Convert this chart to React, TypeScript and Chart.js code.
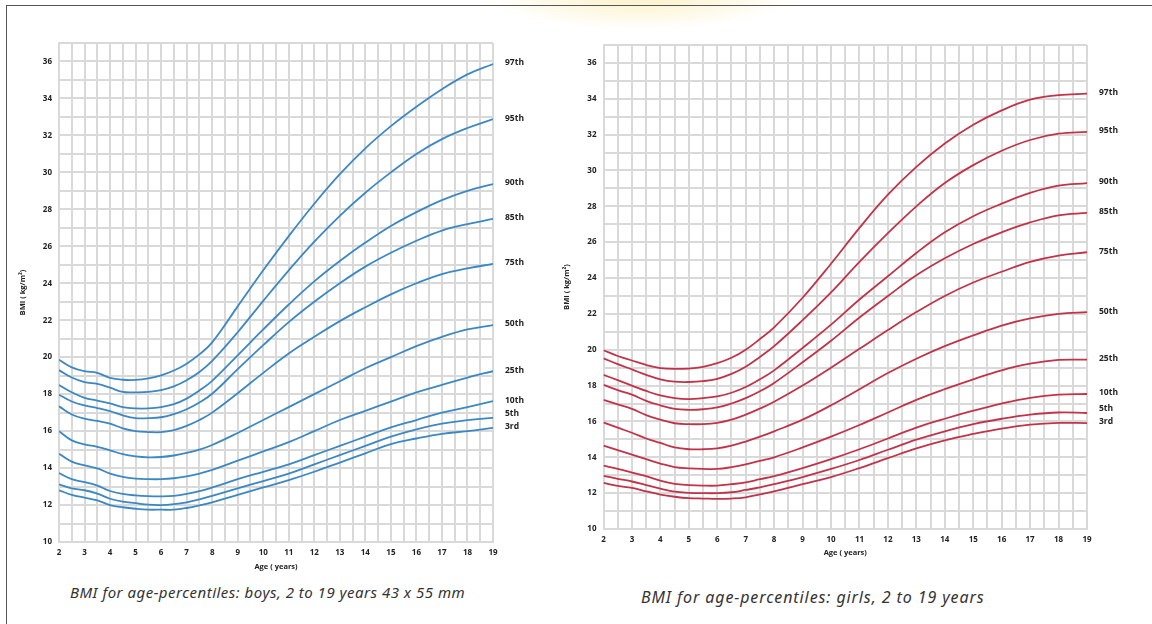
import React, { useEffect, useRef } from "react";
import { Chart, registerables } from "chart.js";
Chart.register(...registerables);

const AGES = [2, 2.5, 3, 3.5, 4, 4.5, 5, 5.5, 6, 6.5, 7, 7.5, 8, 9, 10, 11, 12, 13, 14, 15, 16, 17, 18, 19];
const PERCENTILE_LABELS = ["97th", "95th", "90th", "85th", "75th", "50th", "25th", "10th", "5th", "3rd"];
const X_TICK_LABELS = [2, 3, 4, 5, 6, 7, 8, 9, 10, 11, 12, 13, 14, 15, 16, 17, 18, 19];
const Y_TICK_LABELS = [10, 12, 14, 16, 18, 20, 22, 24, 26, 28, 30, 32, 34, 36];

const boys97 = [19.86, 19.45, 19.24, 19.15, 18.88, 18.78, 18.77, 18.85, 19.02, 19.28, 19.65, 20.15, 20.8, 22.75, 24.7, 26.55, 28.3, 29.9, 31.3, 32.5, 33.55, 34.5, 35.3, 35.86];
const boys95 = [19.3, 18.9, 18.65, 18.55, 18.35, 18.12, 18.1, 18.12, 18.22, 18.42, 18.75, 19.2, 19.8, 21.35, 23.05, 24.7, 26.25, 27.65, 28.9, 30.0, 31.0, 31.8, 32.4, 32.88];
const boys90 = [18.5, 18.1, 17.8, 17.65, 17.5, 17.3, 17.23, 17.23, 17.3, 17.46, 17.76, 18.2, 18.72, 20.1, 21.5, 22.85, 24.1, 25.2, 26.2, 27.1, 27.85, 28.5, 29.0, 29.37];
const boys85 = [17.97, 17.6, 17.39, 17.25, 17.08, 16.85, 16.7, 16.7, 16.75, 16.92, 17.18, 17.55, 18.02, 19.35, 20.65, 21.9, 23.0, 24.0, 24.9, 25.65, 26.3, 26.85, 27.2, 27.48];
const boys75 = [17.34, 16.9, 16.67, 16.55, 16.4, 16.15, 16.0, 15.95, 15.94, 16.05, 16.28, 16.6, 17.0, 18.05, 19.15, 20.2, 21.1, 21.95, 22.7, 23.4, 24.0, 24.5, 24.8, 25.05];
const boys50 = [16.0, 15.5, 15.28, 15.15, 14.96, 14.75, 14.63, 14.58, 14.6, 14.68, 14.82, 15.0, 15.25, 15.9, 16.6, 17.3, 18.0, 18.7, 19.4, 20.0, 20.6, 21.1, 21.5, 21.74];
const boys25 = [14.78, 14.35, 14.15, 13.98, 13.7, 13.52, 13.43, 13.4, 13.4, 13.45, 13.55, 13.7, 13.9, 14.4, 14.9, 15.4, 16.0, 16.6, 17.1, 17.6, 18.1, 18.5, 18.9, 19.24];
const boys10 = [13.73, 13.4, 13.24, 13.05, 12.76, 12.6, 12.52, 12.48, 12.47, 12.5, 12.6, 12.75, 12.95, 13.4, 13.8, 14.2, 14.7, 15.2, 15.7, 16.2, 16.6, 17.0, 17.3, 17.62];
const boys5 = [13.12, 12.9, 12.8, 12.62, 12.34, 12.18, 12.1, 12.02, 12.0, 12.05, 12.15, 12.3, 12.5, 12.9, 13.3, 13.7, 14.2, 14.7, 15.2, 15.7, 16.1, 16.4, 16.6, 16.72];
const boys3 = [12.8, 12.55, 12.4, 12.25, 12.0, 11.88, 11.8, 11.75, 11.75, 11.75, 11.84, 11.98, 12.15, 12.55, 12.95, 13.35, 13.8, 14.3, 14.8, 15.3, 15.6, 15.85, 16.0, 16.18];

const girls97 = [19.97, 19.65, 19.4, 19.15, 18.98, 18.93, 18.95, 19.05, 19.25, 19.55, 20.0, 20.6, 21.25, 22.9, 24.8, 26.8, 28.65, 30.2, 31.5, 32.55, 33.35, 33.95, 34.2, 34.29];
const girls95 = [19.52, 19.2, 18.9, 18.6, 18.35, 18.22, 18.2, 18.25, 18.38, 18.65, 19.05, 19.6, 20.2, 21.65, 23.2, 24.9, 26.5, 28.0, 29.3, 30.3, 31.1, 31.7, 32.05, 32.15];
const girls90 = [18.6, 18.3, 18.0, 17.7, 17.45, 17.3, 17.25, 17.3, 17.4, 17.6, 17.92, 18.35, 18.85, 20.1, 21.4, 22.8, 24.1, 25.4, 26.55, 27.45, 28.15, 28.75, 29.15, 29.3];
const girls85 = [18.04, 17.75, 17.5, 17.15, 16.9, 16.7, 16.65, 16.68, 16.78, 17.0, 17.3, 17.68, 18.15, 19.3, 20.5, 21.8, 23.0, 24.15, 25.1, 25.9, 26.55, 27.1, 27.5, 27.63];
const girls75 = [17.2, 16.95, 16.7, 16.35, 16.1, 15.9, 15.85, 15.85, 15.92, 16.1, 16.38, 16.72, 17.1, 18.0, 19.0, 20.05, 21.1, 22.1, 23.0, 23.75, 24.35, 24.9, 25.25, 25.44];
const girls50 = [15.95, 15.65, 15.37, 15.05, 14.8, 14.55, 14.45, 14.45, 14.5, 14.65, 14.88, 15.15, 15.45, 16.1, 16.9, 17.8, 18.7, 19.5, 20.2, 20.8, 21.35, 21.75, 22.0, 22.1];
const girls25 = [14.65, 14.4, 14.15, 13.9, 13.65, 13.45, 13.38, 13.35, 13.35, 13.45, 13.6, 13.8, 14.0, 14.55, 15.15, 15.8, 16.5, 17.2, 17.8, 18.35, 18.85, 19.22, 19.43, 19.45];
const girls10 = [13.53, 13.35, 13.15, 12.95, 12.7, 12.52, 12.45, 12.42, 12.42, 12.5, 12.6, 12.78, 12.95, 13.4, 13.9, 14.45, 15.05, 15.65, 16.15, 16.6, 17.0, 17.32, 17.5, 17.53];
const girls5 = [12.97, 12.8, 12.65, 12.45, 12.25, 12.08, 12.02, 12.0, 12.0, 12.05, 12.18, 12.32, 12.5, 12.9, 13.35, 13.85, 14.42, 14.98, 15.45, 15.85, 16.15, 16.38, 16.5, 16.47];
const girls3 = [12.57, 12.4, 12.3, 12.1, 11.92, 11.8, 11.72, 11.7, 11.68, 11.7, 11.77, 11.93, 12.1, 12.5, 12.9, 13.4, 13.95, 14.5, 14.95, 15.3, 15.6, 15.82, 15.92, 15.91];

const BOYS = [boys97, boys95, boys90, boys85, boys75, boys50, boys25, boys10, boys5, boys3];
const GIRLS = [girls97, girls95, girls90, girls85, girls75, girls50, girls25, girls10, girls5, girls3];

const TICK_FONT = { family: "'Open Sans', sans-serif", size: 8, weight: "bold" as const };
const GRID = "#d9d9d9";

const endLabels = {
  id: "endLabels",
  afterDatasetsDraw(chart: any, _args: any, opts: any) {
    const { ctx, chartArea } = chart;
    const ys: number[] = chart.data.datasets.map((_d: any, i: number) => {
      const m = chart.getDatasetMeta(i);
      return m.data[m.data.length - 1].y;
    });
    const out: number[] = new Array(ys.length);
    let prev = Infinity;
    for (let i = ys.length - 1; i >= 0; i--) {
      let y = ys[i] - opts.shift;
      if (y > prev - opts.gap) y = prev - opts.gap;
      out[i] = y;
      prev = y;
    }
    ctx.save();
    ctx.font = "bold 8.5px 'Open Sans', sans-serif";
    ctx.fillStyle = "#222";
    ctx.textBaseline = "middle";
    ctx.textAlign = "left";
    chart.data.datasets.forEach((ds: any, i: number) => {
      ctx.fillText(ds.label, chartArea.right + opts.dx, out[i]);
    });
    ctx.restore();
  },
};

type Geo = {
  left: number; top: number; width: number; height: number;
  padTop: number; padRight: number; yWidth: number; xHeight: number;
  yTitlePad: number; xTitlePad: number;
};

function PercentileChart({ series, color, geo }: { series: number[][]; color: string; geo: Geo }) {
  const ref = useRef<HTMLCanvasElement>(null);
  useEffect(() => {
    if (!ref.current) return;
    const chart = new Chart(ref.current, {
      type: "line",
      data: {
        datasets: series.map((vals, i) => ({
          label: PERCENTILE_LABELS[i],
          data: AGES.map((a, j) => ({ x: a, y: vals[j] })),
          borderColor: color,
          borderWidth: 1.8,
          pointRadius: 0,
          fill: false,
          tension: 0.4,
        })),
      },
      options: {
        animation: false,
        responsive: false,
        maintainAspectRatio: false,
        layout: { padding: { top: geo.padTop, right: geo.padRight, left: 0, bottom: 0 } },
        plugins: {
          legend: { display: false },
          tooltip: { enabled: false },
          endLabels: { dx: 12, shift: 1, gap: 13 },
        } as any,
        scales: {
          x: {
            type: "linear",
            min: 2,
            max: 19,
            afterFit: (s: any) => { s.height = geo.xHeight; },
            grid: { color: GRID, lineWidth: 2, drawTicks: false },
            border: { color: GRID, width: 2 },
            ticks: {
              stepSize: 0.5,
              autoSkip: false,
              maxRotation: 0,
              padding: 6,
              color: "#222",
              font: TICK_FONT,
              callback: (v: any) => (X_TICK_LABELS.includes(Number(v)) ? String(v) : ""),
            },
            title: {
              display: true,
              text: "Age ( years)",
              color: "#222",
              font: { family: "'Open Sans', sans-serif", size: 7.5, weight: "bold" },
              padding: { top: 0, bottom: geo.xTitlePad },
            },
          },
          y: {
            type: "linear",
            min: 10,
            max: 37,
            afterFit: (s: any) => { s.width = geo.yWidth; },
            grid: { color: GRID, lineWidth: 2, drawTicks: false },
            border: { color: GRID, width: 2 },
            ticks: {
              stepSize: 1,
              autoSkip: false,
              padding: 7,
              color: "#222",
              font: TICK_FONT,
              callback: (v: any) => (Y_TICK_LABELS.includes(Number(v)) ? String(v) : ""),
            },
            title: {
              display: true,
              text: "BMI ( kg/m²)",
              color: "#222",
              font: { family: "'Open Sans', sans-serif", size: 7.5, weight: "bold" },
              padding: { top: geo.yTitlePad, bottom: 0 },
            },
          },
        },
      },
      plugins: [endLabels],
    });
    return () => chart.destroy();
  }, []);
  return (
    <canvas
      ref={ref}
      width={geo.width}
      height={geo.height}
      style={{ position: "absolute", left: geo.left, top: geo.top, width: geo.width, height: geo.height }}
    />
  );
}

const LEFT_GEO: Geo = { left: 0, top: 0, width: 576, height: 582, padTop: 43, padRight: 83, yWidth: 59, xHeight: 40, yTitlePad: 18, xTitlePad: 11 };
const RIGHT_GEO: Geo = { left: 548, top: 0, width: 600, height: 570, padTop: 45, padRight: 61, yWidth: 55.5, xHeight: 41, yTitlePad: 14, xTitlePad: 13 };

export default function App() {
  return (
    <div style={{ position: "absolute", left: 0, top: 0, width: 1152, height: 624, background: "#fff", overflow: "hidden" }}>
      <div style={{ position: "absolute", left: 480, top: -40, width: 320, height: 70, borderRadius: "50%", background: "radial-gradient(ellipse at center, rgba(250,240,190,0.9), rgba(255,255,255,0) 70%)" }} />
      <div style={{ position: "absolute", left: 6, top: 5, width: 1160, height: 640, borderTop: "1.5px solid #555", borderLeft: "1.5px solid #555" }} />
      <PercentileChart series={BOYS} color="#3b88c4" geo={LEFT_GEO} />
      <PercentileChart series={GIRLS} color="#c23349" geo={RIGHT_GEO} />
      <div style={{ position: "absolute", left: 70, top: 582, fontFamily: "'Noto Sans', sans-serif", fontStyle: "italic", fontSize: 15, letterSpacing: 0.5, color: "#333", whiteSpace: "nowrap" }}>
        BMI for age-percentiles: boys, 2 to 19 years 43 x 55 mm
      </div>
      <div style={{ position: "absolute", left: 641, top: 586, fontFamily: "'Noto Sans', sans-serif", fontStyle: "italic", fontSize: 16, letterSpacing: 0.9, color: "#333", whiteSpace: "nowrap" }}>
        BMI for age-percentiles: girls, 2 to 19 years
      </div>
    </div>
  );
}
